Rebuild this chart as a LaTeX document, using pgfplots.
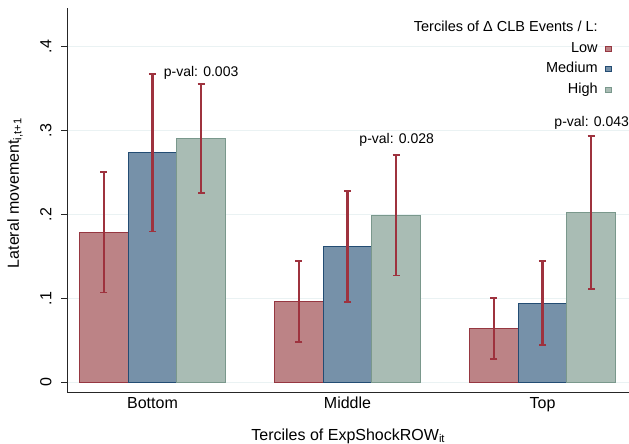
\documentclass[border=0pt]{standalone}
\usepackage{fontspec}
\setmainfont{Liberation Sans}
\usepackage{pgfplots}
\pgfplotsset{compat=1.18}
\definecolor{lowfill}{RGB}{188,131,134}
\definecolor{lowedge}{RGB}{150,55,65}
\definecolor{medfill}{RGB}{118,145,169}
\definecolor{mededge}{RGB}{35,76,115}
\definecolor{highfill}{RGB}{169,188,180}
\definecolor{highedge}{RGB}{122,152,140}
\definecolor{errcol}{RGB}{158,50,62}
\definecolor{gridcol}{RGB}{234,242,243}
\begin{document}
\begin{tikzpicture}
\useasboundingbox (0,0) rectangle (629pt,444pt);
\begin{axis}[
  at={(67.5pt,51pt)}, anchor=south west,
  scale only axis, width=561.5pt, height=385pt,
  xmin=-0.4359, xmax=2.4436, ymin=-0.01275, ymax=0.4461,
  axis x line*=bottom, axis y line*=left,
  axis line style={line width=1pt, black!85},
  xtick={0,1,2}, xticklabels={Bottom,Middle,Top},
  xtick style={draw=none},
  xticklabel style={font=\fontsize{16}{19}\selectfont, anchor=base, yshift=-10pt},
  ytick={0,0.1,0.2,0.3,0.4}, yticklabels={0,.1,.2,.3,.4},
  tick align=outside, major tick length=6pt,
  ytick style={line width=1pt, black!85},
  yticklabel style={font=\fontsize{16}{19}\selectfont, xshift=-10pt, rotate=90, anchor=base},
  ymajorgrids, grid style={color=gridcol, line width=1pt},
  xlabel={Terciles of ExpShockROW\textsubscript{it}},
  ylabel={Lateral movement\textsubscript{i,t+1}},
  xlabel style={font=\fontsize{16}{19}\selectfont, at={(axis description cs:0.5,-0.112)}, anchor=center},
  ylabel style={font=\fontsize{16}{19}\selectfont, at={(axis description cs:-0.0935,0.519)}, anchor=center, rotate=0},
  legend style={at={(rel axis cs:0.9695,0.970)}, anchor=north east, draw=none, fill=none,
    inner sep=0pt, font=\fontsize{14.5}{16}\selectfont, row sep=3.5pt, column sep=5pt,
    nodes={inner sep=2pt, text height=10pt, text depth=3pt}},
  legend cell align=right, legend plot pos=right,
  mylegend/.style={legend image code/.code={\draw[##1, line width=1pt] (0pt,-2.5pt) rectangle (6pt,2.5pt);}},
  bar width=0.25, bar shift=0pt,
  every axis plot/.append style={line width=1pt},
]
\addlegendimage{empty legend}
\addlegendentry{Terciles of Δ CLB Events / L:}
\addplot[ybar, mylegend, fill=lowfill, draw=lowedge]
  coordinates {(-0.25,0.1788) (0.75,0.0965) (1.75,0.0639)};
\addlegendentry{Low}
\addplot[ybar, mylegend, fill=medfill, draw=mededge]
  coordinates {(0,0.2737) (1,0.1616) (2,0.0941)};
\addlegendentry{Medium}
\addplot[ybar, mylegend, fill=highfill, draw=highedge]
  coordinates {(0.25,0.2908) (1.25,0.1990) (2.25,0.2026)};
\addlegendentry{High}
% confidence intervals (same values, error bars only)
\addplot[forget plot, draw=none, mark=none, line width=2.1pt,
  error bars/.cd, y dir=both, y explicit,
  error bar style={draw=errcol, solid, line width=2.1pt},
  error mark options={rotate=90, mark size=3.6pt, draw=errcol, line width=1.8pt}]
  coordinates {
    (-0.25,0.1788) +- (0,0.0718) (0.75,0.0965) +- (0,0.0480) (1.75,0.0639) +- (0,0.0366)
    (0,0.2737) +- (0,0.0940) (1,0.1616) +- (0,0.0660) (2,0.0941) +- (0,0.0500)
    (0.25,0.2908) +- (0,0.0648) (1.25,0.1990) +- (0,0.0717) (2.25,0.2026) +- (0,0.0912)};
\node[anchor=west, inner sep=0pt, font=\fontsize{14}{16}\selectfont] at (axis cs:0.0574,0.3692) {p-val: 0.003};
\node[anchor=west, inner sep=0pt, font=\fontsize{14}{16}\selectfont] at (axis cs:1.0605,0.2888) {p-val: 0.028};
\node[anchor=west, inner sep=0pt, font=\fontsize{14}{16}\selectfont] at (axis cs:2.0605,0.3094) {p-val: 0.043};
\end{axis}
\end{tikzpicture}
\end{document}
